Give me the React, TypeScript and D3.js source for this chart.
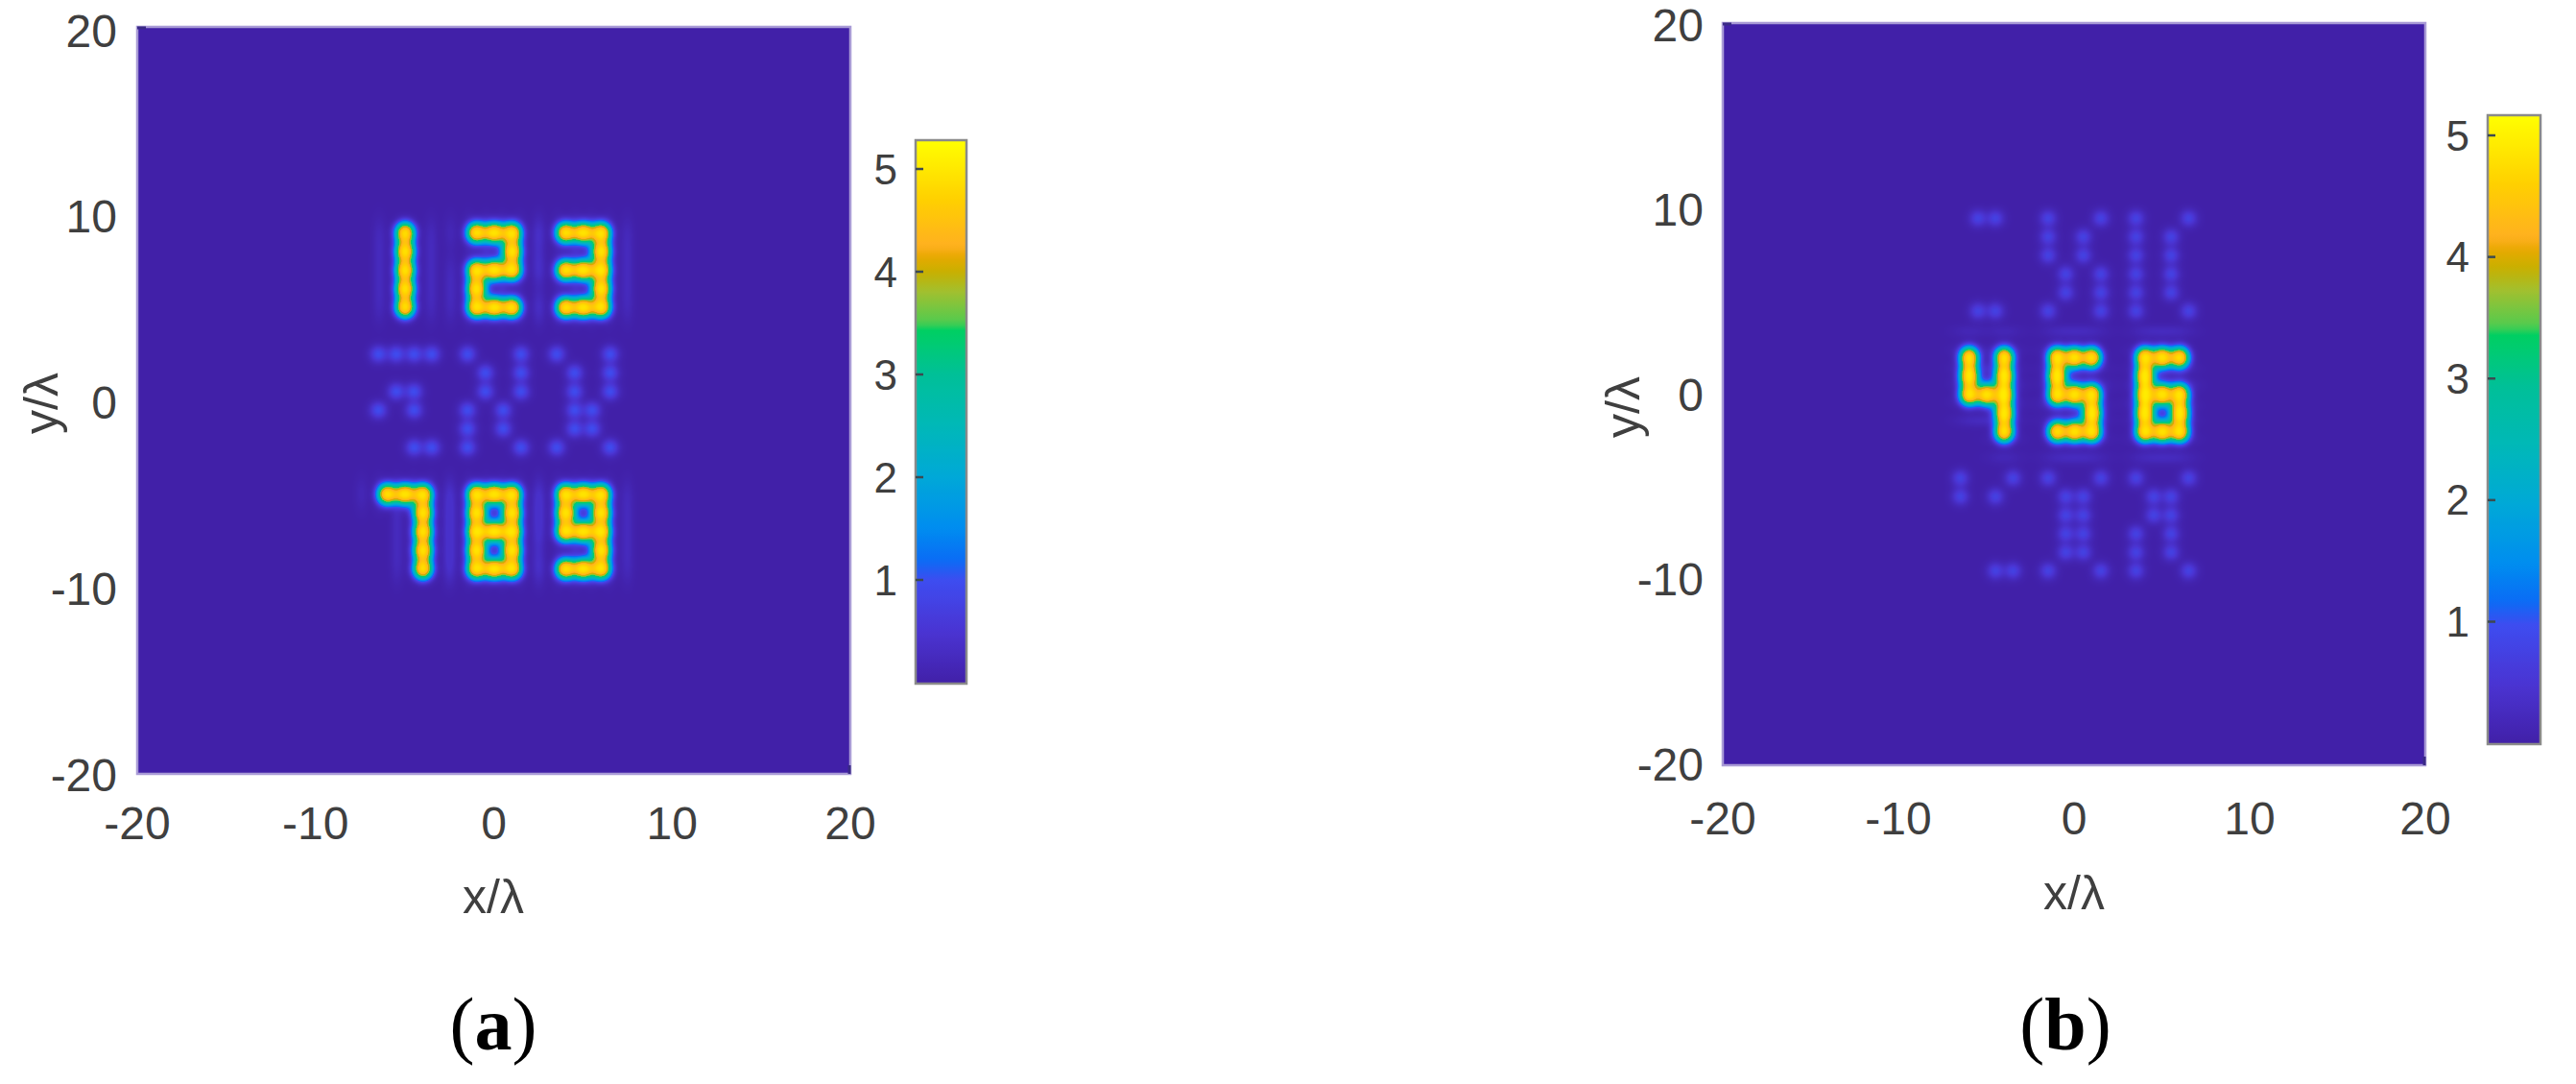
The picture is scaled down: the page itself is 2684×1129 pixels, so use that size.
import React, { useMemo } from "react";
import * as d3 from "d3";

const axisTicks = [-20, -10, 0, 10, 20];
const barTicks = [1, 2, 3, 4, 5];
const colorValues = [0, 0.5, 1, 1.2, 1.5, 2, 2.5, 3, 3.45, 3.5, 3.8, 4, 4.15, 4.25, 4.7, 5.28];
const colorHexes = ["#4120a8", "#4a34d2", "#3e4cf0", "#0a6cf5", "#008cf0", "#00a8d8", "#00b8b8", "#00c098", "#00d060", "#50cc50", "#a0c030", "#c8b000", "#e8a800", "#ffb020", "#ffd000", "#ffff00"];

const glyphs: Record<string, string[]> = {
  "1": [".#.", ".#.", ".#.", ".#.", ".#."],
  "2": ["###", "..#", "###", "#..", "###"],
  "3": ["###", "..#", "###", "..#", "###"],
  "4": ["#.#", "#.#", "###", "..#", "..#"],
  "5": ["###", "#..", "###", "..#", "###"],
  "6": ["###", "#..", "###", "#.#", "###"],
  "7": ["###", "..#", "..#", "..#", "..#"],
  "8": ["###", "#.#", "###", "#.#", "###"],
  "9": ["###", "#.#", "###", "..#", "###"],
};

// [digit, centre x, centre y] in wavelengths
const digitsA: [string, number, number][] = [["1", -5, 7], ["2", 0, 7], ["3", 5, 7], ["7", -5, -7], ["8", 0, -7], ["9", 5, -7]];
const digitsB: [string, number, number][] = [["4", -5, 0], ["5", 0, 0], ["6", 5, 0]];

// [row y, x values] of the faint crosstalk spots
const ghostsA: [number, number[]][] = [
  [2.5, [-6.5, -5.5, -4.5, -3.5, -1.5, 1.5, 3.5, 6.5]],
  [1.5, [-0.5, 1.5, 4.5, 6.5]],
  [0.5, [-5.5, -4.5, -0.5, 1.5, 4.5, 6.5]],
  [-0.5, [-6.5, -4.5, -1.5, 0.5, 4.5, 5.5]],
  [-1.5, [-1.5, 0.5, 4.5, 5.5]],
  [-2.5, [-4.5, -3.5, -1.5, 1.5, 3.5, 6.5]],
];
const ghostsB: [number, number[]][] = [
  [9.5, [-5.5, -4.5, -1.5, 1.5, 3.5, 6.5]],
  [8.5, [-1.5, 0.5, 3.5, 5.5]],
  [7.5, [-1.5, 0.5, 3.5, 5.5]],
  [6.5, [-0.5, 1.5, 3.5, 5.5]],
  [5.5, [-0.5, 1.5, 3.5, 5.5]],
  [4.5, [-5.5, -4.5, -1.5, 1.5, 3.5, 6.5]],
  [-4.5, [-6.5, -3.5, -1.5, 1.5, 3.5, 6.5]],
  [-5.5, [-6.5, -4.5, -0.5, 0.5, 4.5, 5.5]],
  [-6.5, [-0.5, 0.5, 4.5, 5.5]],
  [-7.5, [-0.5, 0.5, 3.5, 5.5]],
  [-8.5, [-0.5, 0.5, 3.5, 5.5]],
  [-9.5, [-4.5, -3.5, -1.5, 1.5, 3.5, 6.5]],
];

const colorScale = d3.scaleLinear<string>().domain(colorValues).range(colorHexes).clamp(true);
const TEXT = "#3f3f3f";
const SANS = "'Liberation Sans', Arial, sans-serif";

function brightPoints(digits: [string, number, number][]) {
  const pts: [number, number][] = [];
  digits.forEach(([d, cx, cy]) => {
    glyphs[d].forEach((row, r) => {
      row.split("").forEach((c, k) => {
        if (c === "#") pts.push([cx + k - 1, cy + 2 - r]);
      });
    });
  });
  return pts;
}

function fieldImage(
  x: d3.ScaleLinear<number, number>,
  y: d3.ScaleLinear<number, number>,
  digits: [string, number, number][],
  ghosts: [number, number[]][],
  ghostAmp: number,
  rippleAxis: "x" | "y"
) {
  const [x0, x1] = x.range();
  const [y0, y1] = y.range();
  const w = Math.round(x1 - x0);
  const h = Math.round(y1 - y0);
  const canvas = document.createElement("canvas");
  canvas.width = w;
  canvas.height = h;
  const ctx = canvas.getContext("2d")!;
  const img = ctx.createImageData(w, h);
  const bright = brightPoints(digits).map(([a, b]) => [x(a) - x0, y(b) - y0]);
  const faint: number[][] = [];
  ghosts.forEach(([ry, xs]) => xs.forEach((gx) => faint.push([x(gx) - x0, y(ry) - y0])));
  const sx = 2 * 7.0 * 7.0;
  const sy = 2 * 7.6 * 7.6;
  const sg = 2 * 6 * 6;
  const lut = d3.range(0, 531).map((i) => d3.rgb(colorScale(i / 100)));
  for (let j = 0; j < h; j++) {
    for (let i = 0; i < w; i++) {
      let S = 0;
      let halo = 0;
      for (const p of bright) {
        const dx = i - p[0];
        const dy = j - p[1];
        if (Math.abs(dx) > 70 || Math.abs(dy) > 70) continue;
        S += Math.exp(-(dx * dx) / sx - (dy * dy) / sy);
        const u = rippleAxis === "x" ? Math.abs(dx) : Math.abs(dy);
        const v = rippleAxis === "x" ? dy : dx;
        halo += Math.exp(-((u - 27) * (u - 27)) / 40 - (v * v) / 300);
      }
      let g = 0;
      for (const p of faint) {
        const dx = i - p[0];
        const dy = j - p[1];
        if (Math.abs(dx) > 25 || Math.abs(dy) > 25) continue;
        g += Math.exp(-(dx * dx + dy * dy) / sg);
      }
      const e = S * 1.75;
      const val = 5.3 * (1 - Math.exp(-Math.pow(e, 1.5))) + Math.min(0.4, halo * 0.16) + ghostAmp * g;
      const c = lut[Math.max(0, Math.min(530, Math.round(val * 100)))];
      const o = (j * w + i) * 4;
      img.data[o] = c.r;
      img.data[o + 1] = c.g;
      img.data[o + 2] = c.b;
      img.data[o + 3] = 255;
    }
  }
  ctx.putImageData(img, 0, 0);
  return canvas.toDataURL();
}

type PanelProps = {
  id: string;
  xr: [number, number];
  yr: [number, number];
  tickY0: number;
  tickY1: number;
  digits: [string, number, number][];
  ghosts: [number, number[]][];
  ghostAmp: number;
  rippleAxis: "x" | "y";
  bar: { x0: number; x1: number; top: number; bottom: number; topValue: number; tick1: number; tick5: number };
  yLabelRight: number;
  xLabelY: number;
  xTitleY: number;
  xTitleX: number;
  yTitleX: number;
  yTitleY: number;
  caption: string;
  captionX: number;
};

function Panel(p: PanelProps) {
  const x = d3.scaleLinear().domain([-20, 20]).range(p.xr);
  const y = d3.scaleLinear().domain([20, -20]).range(p.yr);
  const yLabel = d3.scaleLinear().domain([20, -20]).range([p.tickY0, p.tickY1]);
  const barY = d3.scaleLinear().domain([1, 5]).range([p.bar.tick1, p.bar.tick5]);
  const href = useMemo(() => fieldImage(x, y, p.digits, p.ghosts, p.ghostAmp, p.rippleAxis), []);
  const gradStops = d3.range(0, 101).map((i) => (i / 100) * p.bar.topValue);
  return (
    <g>
      <defs>
        <linearGradient id={p.id} x1="0" y1="1" x2="0" y2="0">
          {gradStops.map((v, i) => (
            <stop key={i} offset={`${i}%`} stopColor={colorScale((v / p.bar.topValue) * 5.28)} />
          ))}
        </linearGradient>
      </defs>
      <image href={href} x={p.xr[0]} y={p.yr[0]} width={p.xr[1] - p.xr[0]} height={p.yr[1] - p.yr[0]} preserveAspectRatio="none" />
      <rect x={p.xr[0]} y={p.yr[0]} width={p.xr[1] - p.xr[0]} height={p.yr[1] - p.yr[0]} fill="none" stroke="#a99bd6" strokeWidth={2.5} />
      <line x1={p.xr[0]} x2={p.xr[0] + 9} y1={p.yr[0] + 1} y2={p.yr[0] + 1} stroke="#3a2a86" strokeWidth={3} />
      <line x1={p.xr[1] - 1} x2={p.xr[1] - 1} y1={p.yr[1]} y2={p.yr[1] - 9} stroke="#3a2a86" strokeWidth={3} />
      {axisTicks.map((t) => (
        <text key={`x${t}`} x={x(t)} y={p.xLabelY} textAnchor="middle" dominantBaseline="central" fontFamily={SANS} fontSize={48} fill={TEXT}>{t}</text>
      ))}
      {axisTicks.map((t) => (
        <text key={`y${t}`} x={p.yLabelRight} y={yLabel(t)} textAnchor="end" dominantBaseline="central" fontFamily={SANS} fontSize={48} fill={TEXT}>{t}</text>
      ))}
      <text x={p.xTitleX} y={p.xTitleY} textAnchor="middle" fontFamily={SANS} fontSize={50} fill={TEXT}>x/λ</text>
      <text transform={`translate(${p.yTitleX},${p.yTitleY}) rotate(-90)`} textAnchor="middle" fontFamily={SANS} fontSize={50} fill={TEXT}>y/λ</text>
      <rect x={p.bar.x0} y={p.bar.top} width={p.bar.x1 - p.bar.x0} height={p.bar.bottom - p.bar.top} fill={`url(#${p.id})`} stroke="#8a8a8a" strokeWidth={2.5} />
      {barTicks.map((t) => (
        <g key={`b${t}`}>
          <line x1={p.bar.x0} x2={p.bar.x0 + 8} y1={barY(t)} y2={barY(t)} stroke="#3c4a50" strokeWidth={2.5} />
          <text x={p.bar.x0 - 19} y={barY(t)} textAnchor="end" dominantBaseline="central" fontFamily={SANS} fontSize={44} fill={TEXT}>{t}</text>
        </g>
      ))}
      <text x={p.captionX} y={1093} textAnchor="middle" fontFamily="'Liberation Serif', serif" fontSize={78} fill="#000">
        (<tspan fontWeight="bold">{p.caption}</tspan>)
      </text>
    </g>
  );
}

export default function App() {
  return (
    <svg width={2684} height={1129} viewBox="0 0 2684 1129" style={{ position: "absolute", left: 0, top: 0, background: "#fff" }}>
      <Panel
        id="barA" xr={[143, 886]} yr={[28, 806]} tickY0={32} tickY1={807} yLabelRight={122}
        digits={digitsA} ghosts={ghostsA} ghostAmp={0.95} rippleAxis="x"
        bar={{ x0: 954, x1: 1007, top: 146, bottom: 712, topValue: 5.28, tick1: 604, tick5: 176 }}
        xLabelY={857} xTitleY={951} xTitleX={514} yTitleX={60} yTitleY={420} caption="a" captionX={514}
      />
      <Panel
        id="barB" xr={[1795, 2527]} yr={[24, 797]} tickY0={26} tickY1={796} yLabelRight={1775}
        digits={digitsB} ghosts={ghostsB} ghostAmp={0.75} rippleAxis="y"
        bar={{ x0: 2592, x1: 2647, top: 120, bottom: 775, topValue: 5.17, tick1: 647.5, tick5: 141 }}
        xLabelY={852} xTitleY={947} xTitleX={2161} yTitleX={1708} yTitleY={424} caption="b" captionX={2152}
      />
    </svg>
  );
}
